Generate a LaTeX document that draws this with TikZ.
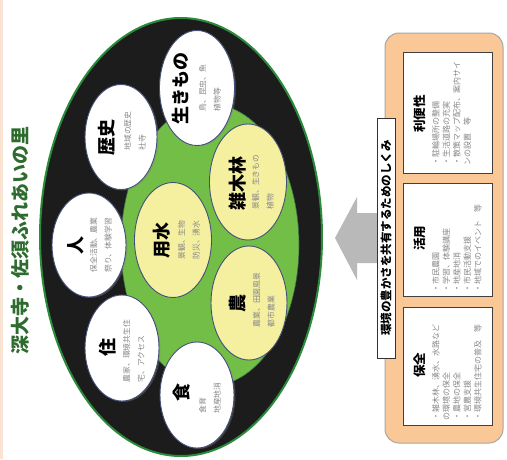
\documentclass[tikz,border=0pt]{standalone}
\usepackage{fontspec}
\newfontfamily\jp{Noto Sans CJK JP}
\usetikzlibrary{shapes.geometric,shadows}
\definecolor{nearblack}{HTML}{1C1C1C}
\definecolor{ringgreen}{HTML}{2A8C3A}
\definecolor{leafgreen}{HTML}{72BE46}
\definecolor{leafedge}{HTML}{3E6A4A}
\definecolor{paleyellow}{HTML}{F5EFA0}
\definecolor{rimblue}{HTML}{45507A}
\definecolor{titlegreen}{HTML}{2E6B2E}
\definecolor{peach}{HTML}{FAE3D3}
\definecolor{panelorange}{HTML}{FAC797}
\definecolor{arrowgray}{HTML}{B9B9B9}
\definecolor{subgray}{HTML}{888888}
\begin{document}
\begin{tikzpicture}[x=1pt,y=-1pt,
  outerell/.style={ellipse, draw=ringgreen, line width=2pt, fill=nearblack, inner sep=0pt},
  innerell/.style={ellipse, fill=leafgreen, draw=leafedge, line width=0.6pt, inner sep=0pt},
  wcirc/.style={ellipse, fill=white, draw=rimblue, line width=0.9pt, inner sep=0pt,
    drop shadow={shadow xshift=1.5pt, shadow yshift=-1pt, opacity=0.35}},
  ycirc/.style={ellipse, fill=paleyellow, draw=rimblue, line width=0.9pt, inner sep=0pt},
  lbl/.style={rotate=90, font=\jp\bfseries\fontsize{18}{19}\selectfont, inner sep=0pt},
  sublbl/.style={rotate=90, font=\jp\fontsize{7.8}{14.5}\selectfont, text=subgray, align=left, inner sep=0pt},
  panelbox/.style={draw=gray!70, line width=1pt, fill=panelorange, rounded corners=14pt},
  itembox/.style={draw=black!75, line width=0.9pt, fill=white, inner sep=0pt},
  itemlbl/.style={rotate=90, font=\jp\bfseries\fontsize{12.5}{13}\selectfont, inner sep=0pt},
  itemtxt/.style={rotate=90, anchor=north west, font=\jp\fontsize{8}{10.5}\selectfont, text=subgray, align=left, inner sep=0pt},
  headbox/.style={draw=black!80, line width=0.9pt, fill=white, inner sep=0pt}
]
\useasboundingbox (0,0) rectangle (507,459);
\fill[peach] (0,0) rectangle (3,459);

% title
\node[rotate=90, font=\jp\bfseries\fontsize{19}{20}\selectfont, text=titlegreen, inner sep=0pt] (title) at (20,240) {深大寺・佐須ふれあいの里};

% big ellipse and green region
\node[outerell, minimum width=282pt, minimum height=438pt] (outer) at (181,237) {};
\node[innerell, minimum width=178pt, minimum height=282pt] (inner) at (210,245) {};

% yellow ellipses
\node[ycirc, minimum width=77pt, minimum height=115pt] (yousui) at (173,240) {};
\node[ycirc, minimum width=77pt, minimum height=116pt] (zouki) at (248,182) {};
\node[ycirc, minimum width=76pt, minimum height=114pt] (nou) at (249,303) {};

% white ellipses
\node[wcirc, minimum width=75pt, minimum height=115pt] (ikimono) at (197,88) {};
\node[wcirc, minimum width=72pt, minimum height=105pt] (rekishi) at (121,137) {};
\node[wcirc, minimum width=74pt, minimum height=104pt] (hito) at (89,245) {};
\node[wcirc, minimum width=74pt, minimum height=106pt] (sumai) at (122,348) {};
\node[wcirc, minimum width=74pt, minimum height=106pt] (shoku) at (197,395) {};

% labels in ellipses
\node[lbl] (ikimonoL) at (180,88) {生きもの};
\node[sublbl] (ikimonoS) at (210,88) {鳥、昆虫、魚\\植物等};
\node[lbl] (rekishiL) at (107,137) {歴史};
\node[sublbl] (rekishiS) at (135,131) {地域の歴史\\社寺};
\node[lbl] (hitoL) at (76,245) {人};
\node[sublbl] (hitoS) at (101,245) {保全活動、農業\\祭り、体験学習};
\node[lbl] (sumaiL) at (108,347) {住};
\node[sublbl] (sumaiS) at (134,351) {農家、環境共生住\\宅、アクセス};
\node[lbl] (shokuL) at (182,392) {食};
\node[sublbl] (shokuS) at (210,398) {食育\\地産地消};
\node[lbl] (yousuiL) at (162,240) {用水};
\node[sublbl] (yousuiS) at (189,240) {景観、生物\\防災、湧水};
\node[lbl] (zoukiL) at (238,183) {雑木林};
\node[sublbl] (zoukiS) at (263,182) {景観、生きもの\\植物};
\node[lbl] (nouL) at (238,303) {農};
\node[sublbl] (nouS) at (264,300) {農業、田園風景\\都市農業};

% right panel
\node[panelbox, minimum width=118pt, minimum height=410pt] (panel) at (444,238) {};
\node[itembox, minimum width=89pt, minimum height=121pt] (benri) at (447.5,112.5) {};
\node[itembox, minimum width=89pt, minimum height=113pt] (katsuyo) at (447.5,239.5) {};
\node[itembox, minimum width=89pt, minimum height=118pt] (hozen) at (447.5,366) {};

\node[itemlbl] (benriL) at (420,114) {利便性};
\node[itemlbl] (katsuyoL) at (420,238) {活用};
\node[itemlbl] (hozenL) at (420,365) {保全};

\node[itemtxt] (benriT) at (432,166) {・駐輪場所の整備\\・生活道路の充実\\・散策マップ配布、案内サイ\\ンの設置　等};
\node[itemtxt] (katsuyoT) at (432,293) {・市民農園\\・学習、体験講座\\・地産地消\\・市民活動支援\\・地域でのイベント　等};
\node[itemtxt] (hozenT) at (432,421) {・雑木林、湧水、水路など\\の環境の保全\\・農地の保全\\・営農支援\\・環境共生住宅の普及　等};

% arrow
\fill[arrowgray] (377,213) -- (357,213) -- (357,197) -- (335,238) -- (357,280) -- (357,263) -- (377,263) -- cycle;

% header
\node[headbox, minimum width=18pt, minimum height=240pt] (head) at (386,238) {};
\node[rotate=90, font=\jp\bfseries\fontsize{11.5}{12}\selectfont, inner sep=0pt] (headT) at (head.center) {環境の豊かさを共有するためのしくみ};
\end{tikzpicture}
\end{document}
